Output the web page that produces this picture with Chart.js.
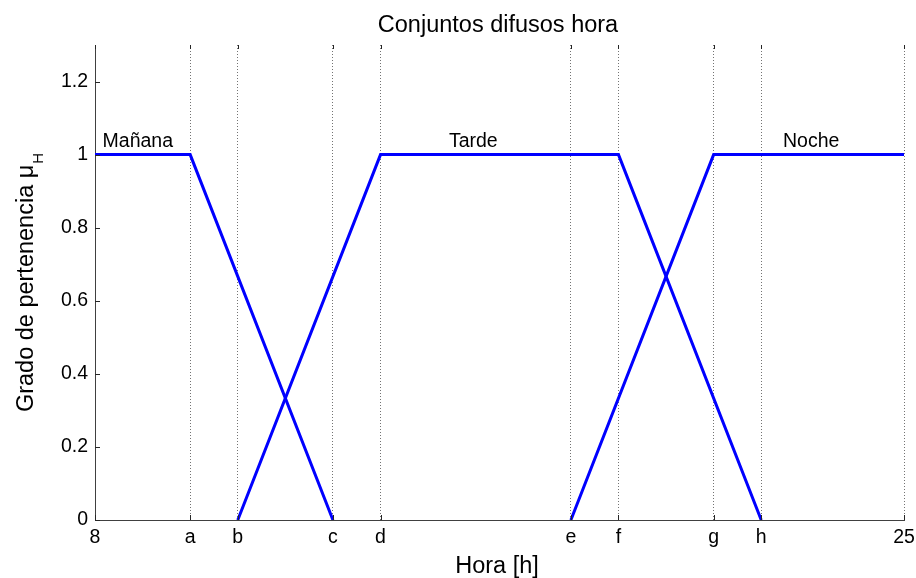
<!DOCTYPE html>
<html>
<head>
<meta charset="utf-8">
<script src="https://cdn.jsdelivr.net/npm/chart.js@4.4.1/dist/chart.umd.min.js"></script>
<style>
  body { margin: 0; background: #fff; }
  canvas { display: block; }
</style>
</head>
<body>
<canvas id="fuzzyChart" width="916" height="578"></canvas>
<script>
// Conjuntos difusos (trapecios) de la variable hora
const mananaX = [8, 10, 13];
const mananaY = [1, 1, 0];
const tardeX = [11, 14, 19, 22];
const tardeY = [0, 1, 1, 0];
const nocheX = [18, 21, 25];
const nocheY = [0, 1, 1];

const xTickValues = [8, 10, 11, 13, 14, 18, 19, 21, 22, 25];
const xTickLabels = ['8', 'a', 'b', 'c', 'd', 'e', 'f', 'g', 'h', '25'];
const yTickValues = [0, 0.2, 0.4, 0.6, 0.8, 1, 1.2];
const yTickLabels = ['0', '0.2', '0.4', '0.6', '0.8', '1', '1.2'];

const setNames = ['Mañana', 'Tarde', 'Noche'];
const setLabelX = [8.9, 15.95, 23.05];
const setLabelY = [1.02, 1.02, 1.02];

const FONT = '"Liberation Sans", Arial, Helvetica, sans-serif';
const BLUE = '#0000ff';

function toPoints(xs, ys) {
  return xs.map((x, i) => ({ x: x, y: ys[i] }));
}

function lineSet(label, xs, ys) {
  return {
    label: label,
    data: toPoints(xs, ys),
    borderColor: BLUE,
    borderWidth: 3,
    pointRadius: 0,
    tension: 0,
    fill: false
  };
}

// Textos, marcas interiores y etiquetas de los conjuntos
const decorations = {
  id: 'decorations',
  afterDraw(chart) {
    const ctx = chart.ctx;
    const area = chart.chartArea;
    const xs = chart.scales.x;
    const ys = chart.scales.y;

    ctx.save();
    // marcas de los ejes hacia dentro
    ctx.strokeStyle = '#262626';
    ctx.lineWidth = 1;
    ctx.beginPath();
    xTickValues.forEach(v => {
      const px = Math.round(xs.getPixelForValue(v)) + 0.5;
      ctx.moveTo(px, area.bottom);
      ctx.lineTo(px, area.bottom - 5);
      ctx.moveTo(px, area.top);
      ctx.lineTo(px, area.top + 4);
    });
    yTickValues.forEach(v => {
      const py = Math.round(ys.getPixelForValue(v)) + 0.5;
      ctx.moveTo(area.left, py);
      ctx.lineTo(area.left + 5, py);
    });
    ctx.stroke();

    ctx.fillStyle = '#000';

    // nombres de los conjuntos
    ctx.font = '19.5px ' + FONT;
    ctx.textAlign = 'center';
    ctx.textBaseline = 'alphabetic';
    setNames.forEach((name, i) => {
      ctx.fillText(name, xs.getPixelForValue(setLabelX[i]), ys.getPixelForValue(setLabelY[i]));
    });

    // título
    ctx.font = '23.5px ' + FONT;
    ctx.fillText('Conjuntos difusos hora', 498, 32);

    // eje x
    ctx.fillText('Hora [h]', 497, 573);

    // eje y con subíndice
    const main = 'Grado de pertenencia μ';
    const sub = 'H';
    ctx.translate(33, 283);
    ctx.rotate(-Math.PI / 2);
    ctx.font = '23.5px ' + FONT;
    const wMain = ctx.measureText(main).width;
    ctx.font = '15px ' + FONT;
    const wSub = ctx.measureText(sub).width;
    const start = -(wMain + wSub) / 2;
    ctx.textAlign = 'left';
    ctx.font = '23.5px ' + FONT;
    ctx.fillText(main, start, 0);
    ctx.font = '15px ' + FONT;
    ctx.fillText(sub, start + wMain + 1, 10);
    ctx.restore();
  }
};

new Chart(document.getElementById('fuzzyChart'), {
  type: 'line',
  data: {
    datasets: [
      lineSet('Mañana', mananaX, mananaY),
      lineSet('Tarde', tardeX, tardeY),
      lineSet('Noche', nocheX, nocheY)
    ]
  },
  options: {
    responsive: false,
    animation: false,
    layout: { padding: { top: 45, right: 12, left: 0, bottom: 0 } },
    plugins: {
      legend: { display: false },
      tooltip: { enabled: false },
      title: { display: false }
    },
    scales: {
      x: {
        type: 'linear',
        min: 8,
        max: 25,
        afterBuildTicks: scale => {
          scale.ticks = xTickValues.map(v => ({ value: v }));
        },
        afterFit: scale => {
          scale.height = 58;
          scale.paddingLeft = 0;
          scale.paddingRight = 0;
        },
        ticks: {
          autoSkip: false,
          maxRotation: 0,
          padding: 6,
          color: '#000',
          font: { family: FONT, size: 19.5 },
          callback: (value) => xTickLabels[xTickValues.indexOf(value)]
        },
        grid: {
          display: true,
          drawTicks: false,
          color: 'rgba(0,0,0,0.55)',
          lineWidth: 1
        },
        border: { display: true, color: '#404040', width: 1, dash: [1, 2] }
      },
      y: {
        type: 'linear',
        min: 0,
        max: 1.3,
        afterBuildTicks: scale => {
          scale.ticks = yTickValues.map(v => ({ value: v }));
        },
        afterFit: scale => {
          scale.width = 95;
          scale.paddingTop = 0;
          scale.paddingBottom = 0;
        },
        ticks: {
          padding: 7,
          color: '#000',
          font: { family: FONT, size: 19.5 },
          callback: (value) => yTickLabels[yTickValues.indexOf(value)]
        },
        grid: { display: false, drawTicks: false },
        border: { display: true, color: '#404040', width: 1 }
      }
    }
  },
  plugins: [decorations]
});
</script>
</body>
</html>
